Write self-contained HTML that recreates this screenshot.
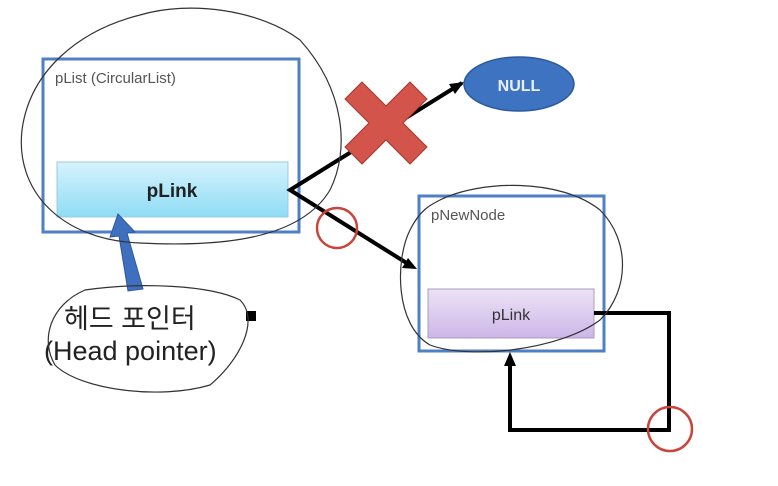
<!DOCTYPE html>
<html><head><meta charset="utf-8"><style>
html,body{margin:0;padding:0;background:#fff;width:778px;height:486px;overflow:hidden}
svg{display:block}
</style></head><body>
<svg width="778" height="486" viewBox="0 0 778 486" xmlns="http://www.w3.org/2000/svg">
<defs>
<linearGradient id="gb" x1="0" y1="0" x2="0" y2="1"><stop offset="0" stop-color="#d6f3fc"/><stop offset="1" stop-color="#8fdcf5"/></linearGradient>
<linearGradient id="gp" x1="0" y1="0" x2="0" y2="1"><stop offset="0" stop-color="#ece3f6"/><stop offset="1" stop-color="#cdb6e8"/></linearGradient>
</defs>
<!-- pList -->
<rect x="43" y="59" width="256" height="173" fill="#fff" stroke="#4f7fc6" stroke-width="3"/>
<text x="55" y="83" font-family="Liberation Sans, sans-serif" font-size="15" fill="#555">pList (CircularList)</text>
<rect x="57" y="162" width="231" height="55" fill="url(#gb)" stroke="#9cc8dc" stroke-width="1"/>
<text x="172" y="197" text-anchor="middle" font-family="Liberation Sans, sans-serif" font-size="19" font-weight="bold" fill="#222">pLink</text>
<!-- connectors -->
<polyline points="462,83 290,190 413,267" fill="none" stroke="#000" stroke-width="4" />
<path d="M464,82 l-15,2 l6,10 z" fill="#000"/>
<path d="M417,269 l-15,-1 l6,-10 z" fill="#000"/>
<!-- red X -->
<g transform="translate(386,123)">
<path d="M-24,-41 L0,-17 L24,-41 L41,-24 L17,0 L41,24 L24,41 L0,17 L-24,41 L-41,24 L-17,0 L-41,-24 Z" fill="#d3544a" stroke="#a33a30" stroke-width="1"/>
</g>
<circle cx="337" cy="228" r="20" fill="none" stroke="#c9453c" stroke-width="2.5"/>
<!-- NULL -->
<ellipse cx="519" cy="84" rx="55" ry="27" fill="#3e73c2" stroke="#2d5a9e" stroke-width="1.5"/>
<text x="519" y="91" text-anchor="middle" font-family="Liberation Sans, sans-serif" font-size="16" font-weight="bold" fill="#e8f0ff">NULL</text>
<!-- pNewNode -->
<rect x="419" y="196" width="185" height="155" fill="#fff" stroke="#4f7fc6" stroke-width="3"/>
<text x="431" y="220" font-family="Liberation Sans, sans-serif" font-size="15" fill="#555">pNewNode</text>
<rect x="428" y="289" width="166" height="49" fill="url(#gp)" stroke="#a99cc0" stroke-width="1"/>
<text x="511" y="320" text-anchor="middle" font-family="Liberation Sans, sans-serif" font-size="16" fill="#333">pLink</text>
<polyline points="594,313 669,313 669,430 510,430 510,362" fill="none" stroke="#000" stroke-width="4"/>
<path d="M510,352 l-6,14 l12,0 z" fill="#000"/>
<circle cx="670" cy="429" r="22" fill="none" stroke="#c9453c" stroke-width="2.5"/>
<!-- blue arrow -->
<path d="M128,291 L119,236 L110,237 L118,214 L135,232 L127,233 L143,289 Z" fill="#3f70c0" stroke="#2d5a9e" stroke-width="1"/>
<!-- head pointer text -->
<text x="64" y="328" font-family="Liberation Sans, 'Noto Sans CJK KR', sans-serif" font-size="27" fill="#222">헤드 포인터</text>
<rect x="246" y="311" width="10" height="10" fill="#000"/>
<text x="44" y="360" font-family="Liberation Sans, sans-serif" font-size="27" fill="#222">(Head pointer)</text>
<!-- hand-drawn loops -->
<g fill="none" stroke="#333" stroke-width="1.2">
<path d="M300,40 C260,10 190,0 140,15 C80,30 30,70 22,130 C15,190 60,240 140,243 C220,247 300,240 330,190 C350,150 345,90 300,40 Z"/>
<path d="M85,290 C140,282 210,285 240,300 C260,320 240,360 210,385 C160,400 80,390 55,365 C40,340 50,305 85,290 Z"/>
<path d="M440,200 C480,180 560,178 600,210 C630,240 630,290 600,320 C560,350 470,360 430,345 C395,325 395,260 410,230 C420,210 430,205 440,200 Z"/>
</g>
</svg>
</body></html>
